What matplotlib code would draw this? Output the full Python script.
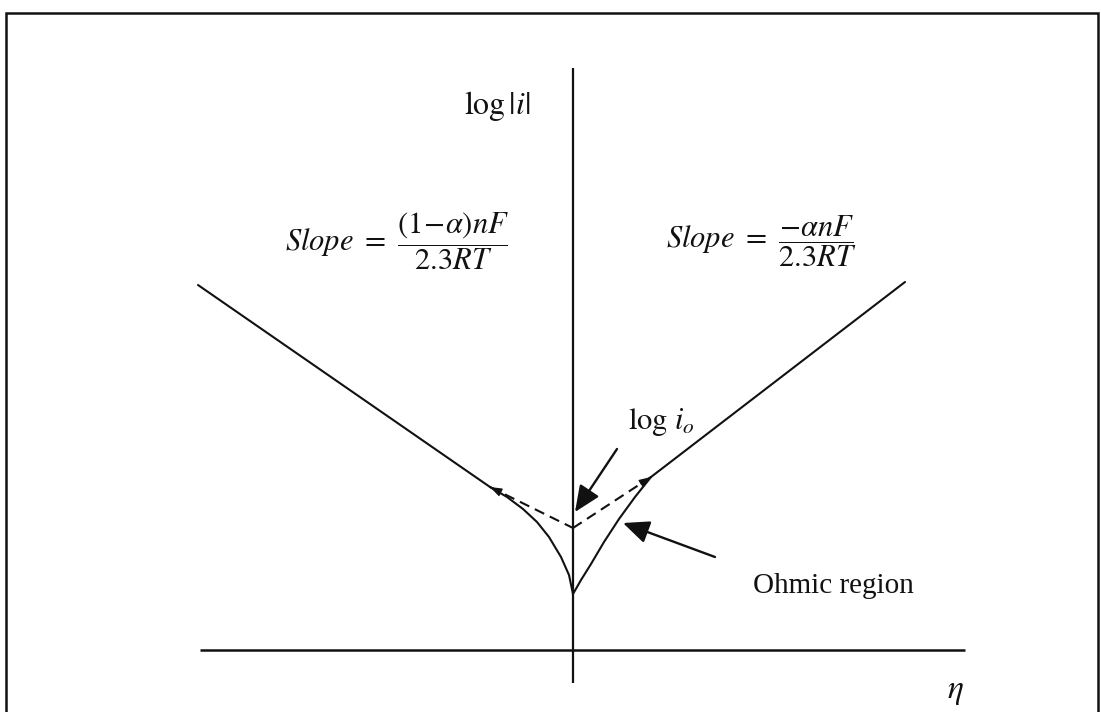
import matplotlib
matplotlib.use("Agg")
import matplotlib.pyplot as plt
from matplotlib.patches import Rectangle

# Axis extents (overpotential eta, log|i|)
eta_axis = [-3.73, 3.92]
logi_axis = [-0.33, 5.82]

# Exchange current density intercept on the log|i| axis
log_i0 = 1.22

# Linear Tafel regions
left_tafel_eta = [-3.75, -0.83]
left_tafel_logi = [3.65, 1.63]
right_tafel_eta = [0.78, 3.32]
right_tafel_logi = [1.73, 3.68]

# Extrapolations of the Tafel lines down to log i0
left_extrap_eta = [-0.83, 0.0]
left_extrap_logi = [1.63, log_i0]
right_extrap_eta = [0.0, 0.78]
right_extrap_logi = [log_i0, 1.73]

# Curved low-overpotential branches
left_curve_eta = [-0.83, -0.66, -0.50, -0.36, -0.24, -0.12, -0.04, 0.0]
left_curve_logi = [1.63, 1.53, 1.41, 1.28, 1.13, 0.93, 0.75, 0.56]
right_curve_eta = [0.78, 0.62, 0.46, 0.31, 0.18, 0.08, 0.0]
right_curve_logi = [1.73, 1.53, 1.31, 1.08, 0.86, 0.70, 0.56]

plt.rcParams["mathtext.fontset"] = "stix"
plt.rcParams["font.family"] = ["Liberation Serif", "DejaVu Serif"]

fig = plt.figure(figsize=(11.01, 7.12), dpi=100)
fig.patch.set_facecolor("white")
ax = fig.add_axes([0, 0, 1, 1])
ax.set_xlim(-5.73, 5.28)
ax.set_ylim(-0.62, 6.50)
ax.axis("off")

ink = "#111111"

# Frame around the drawing
fig.patches.append(Rectangle((6 / 1101, -0.05), 1092 / 1101, (712 - 13) / 712 + 0.05,
                             transform=fig.transFigure, fill=False,
                             edgecolor=ink, lw=1.8))

# Coordinate axes
ax.plot(eta_axis, [0, 0], color=ink, lw=1.8, solid_capstyle="butt")
ax.plot([0, 0], logi_axis, color=ink, lw=1.6, solid_capstyle="butt")

# Tafel lines and curves
line_kw = dict(color=ink, lw=1.5, solid_joinstyle="round", solid_capstyle="round")
ax.plot(left_tafel_eta, left_tafel_logi, **line_kw)
ax.plot(right_tafel_eta, right_tafel_logi, **line_kw)
ax.plot(left_curve_eta, left_curve_logi, **line_kw)
ax.plot(right_curve_eta, right_curve_logi, **line_kw)

# Dashed extrapolations
ax.plot(left_extrap_eta, left_extrap_logi, color=ink, lw=1.5, ls=(0, (5, 3)))
ax.plot(right_extrap_eta, right_extrap_logi, color=ink, lw=1.5, ls=(0, (5, 3)))

# Small heads at the outer ends of the dashed lines
ax.annotate("", xy=(left_extrap_eta[0], left_extrap_logi[0]),
            xytext=(left_extrap_eta[0] + 0.10, left_extrap_logi[0] - 0.05),
            arrowprops=dict(arrowstyle="-|>,head_length=0.7,head_width=0.25",
                            color=ink, lw=1.0, shrinkA=0, shrinkB=0),
            annotation_clip=False)
ax.annotate("", xy=(right_extrap_eta[1], right_extrap_logi[1]),
            xytext=(right_extrap_eta[1] - 0.10, right_extrap_logi[1] - 0.065),
            arrowprops=dict(arrowstyle="-|>,head_length=0.7,head_width=0.25",
                            color=ink, lw=1.0, shrinkA=0, shrinkB=0),
            annotation_clip=False)

# Pointer arrows
ax.annotate("", xy=(0.02, 1.38), xytext=(0.44, 2.01),
            arrowprops=dict(arrowstyle="-|>,head_length=0.8,head_width=0.35",
                            color=ink, lw=1.7, shrinkA=0, shrinkB=0,
                            mutation_scale=20))
ax.annotate("", xy=(0.50, 1.27), xytext=(1.42, 0.93),
            arrowprops=dict(arrowstyle="-|>,head_length=0.8,head_width=0.35",
                            color=ink, lw=1.7, shrinkA=0, shrinkB=0,
                            mutation_scale=20))

# Labels
ax.text(-0.76, 5.44, r"$\mathrm{log}\,|i|$", fontsize=23, ha="center", va="center", color=ink)
ax.text(-1.76, 4.09, r"$Slope\ =\ \dfrac{(1\!-\!\alpha)nF}{2.3RT}$", fontsize=22,
        ha="center", va="center", color=ink)
ax.text(1.88, 4.09, r"$Slope\ =\ \dfrac{-\alpha nF}{2.3RT}$", fontsize=22,
        ha="center", va="center", color=ink)
ax.text(0.55, 2.28, r"$\mathrm{log}\ i_o$", fontsize=22, ha="left", va="center", color=ink)
ax.text(1.80, 0.57, "Ohmic region", fontsize=21, ha="left", va="baseline", color=ink)
ax.text(3.82, -0.42, r"$\eta$", fontsize=24, ha="center", va="center", color=ink)

fig.savefig("out.png", dpi=100, facecolor="white")
